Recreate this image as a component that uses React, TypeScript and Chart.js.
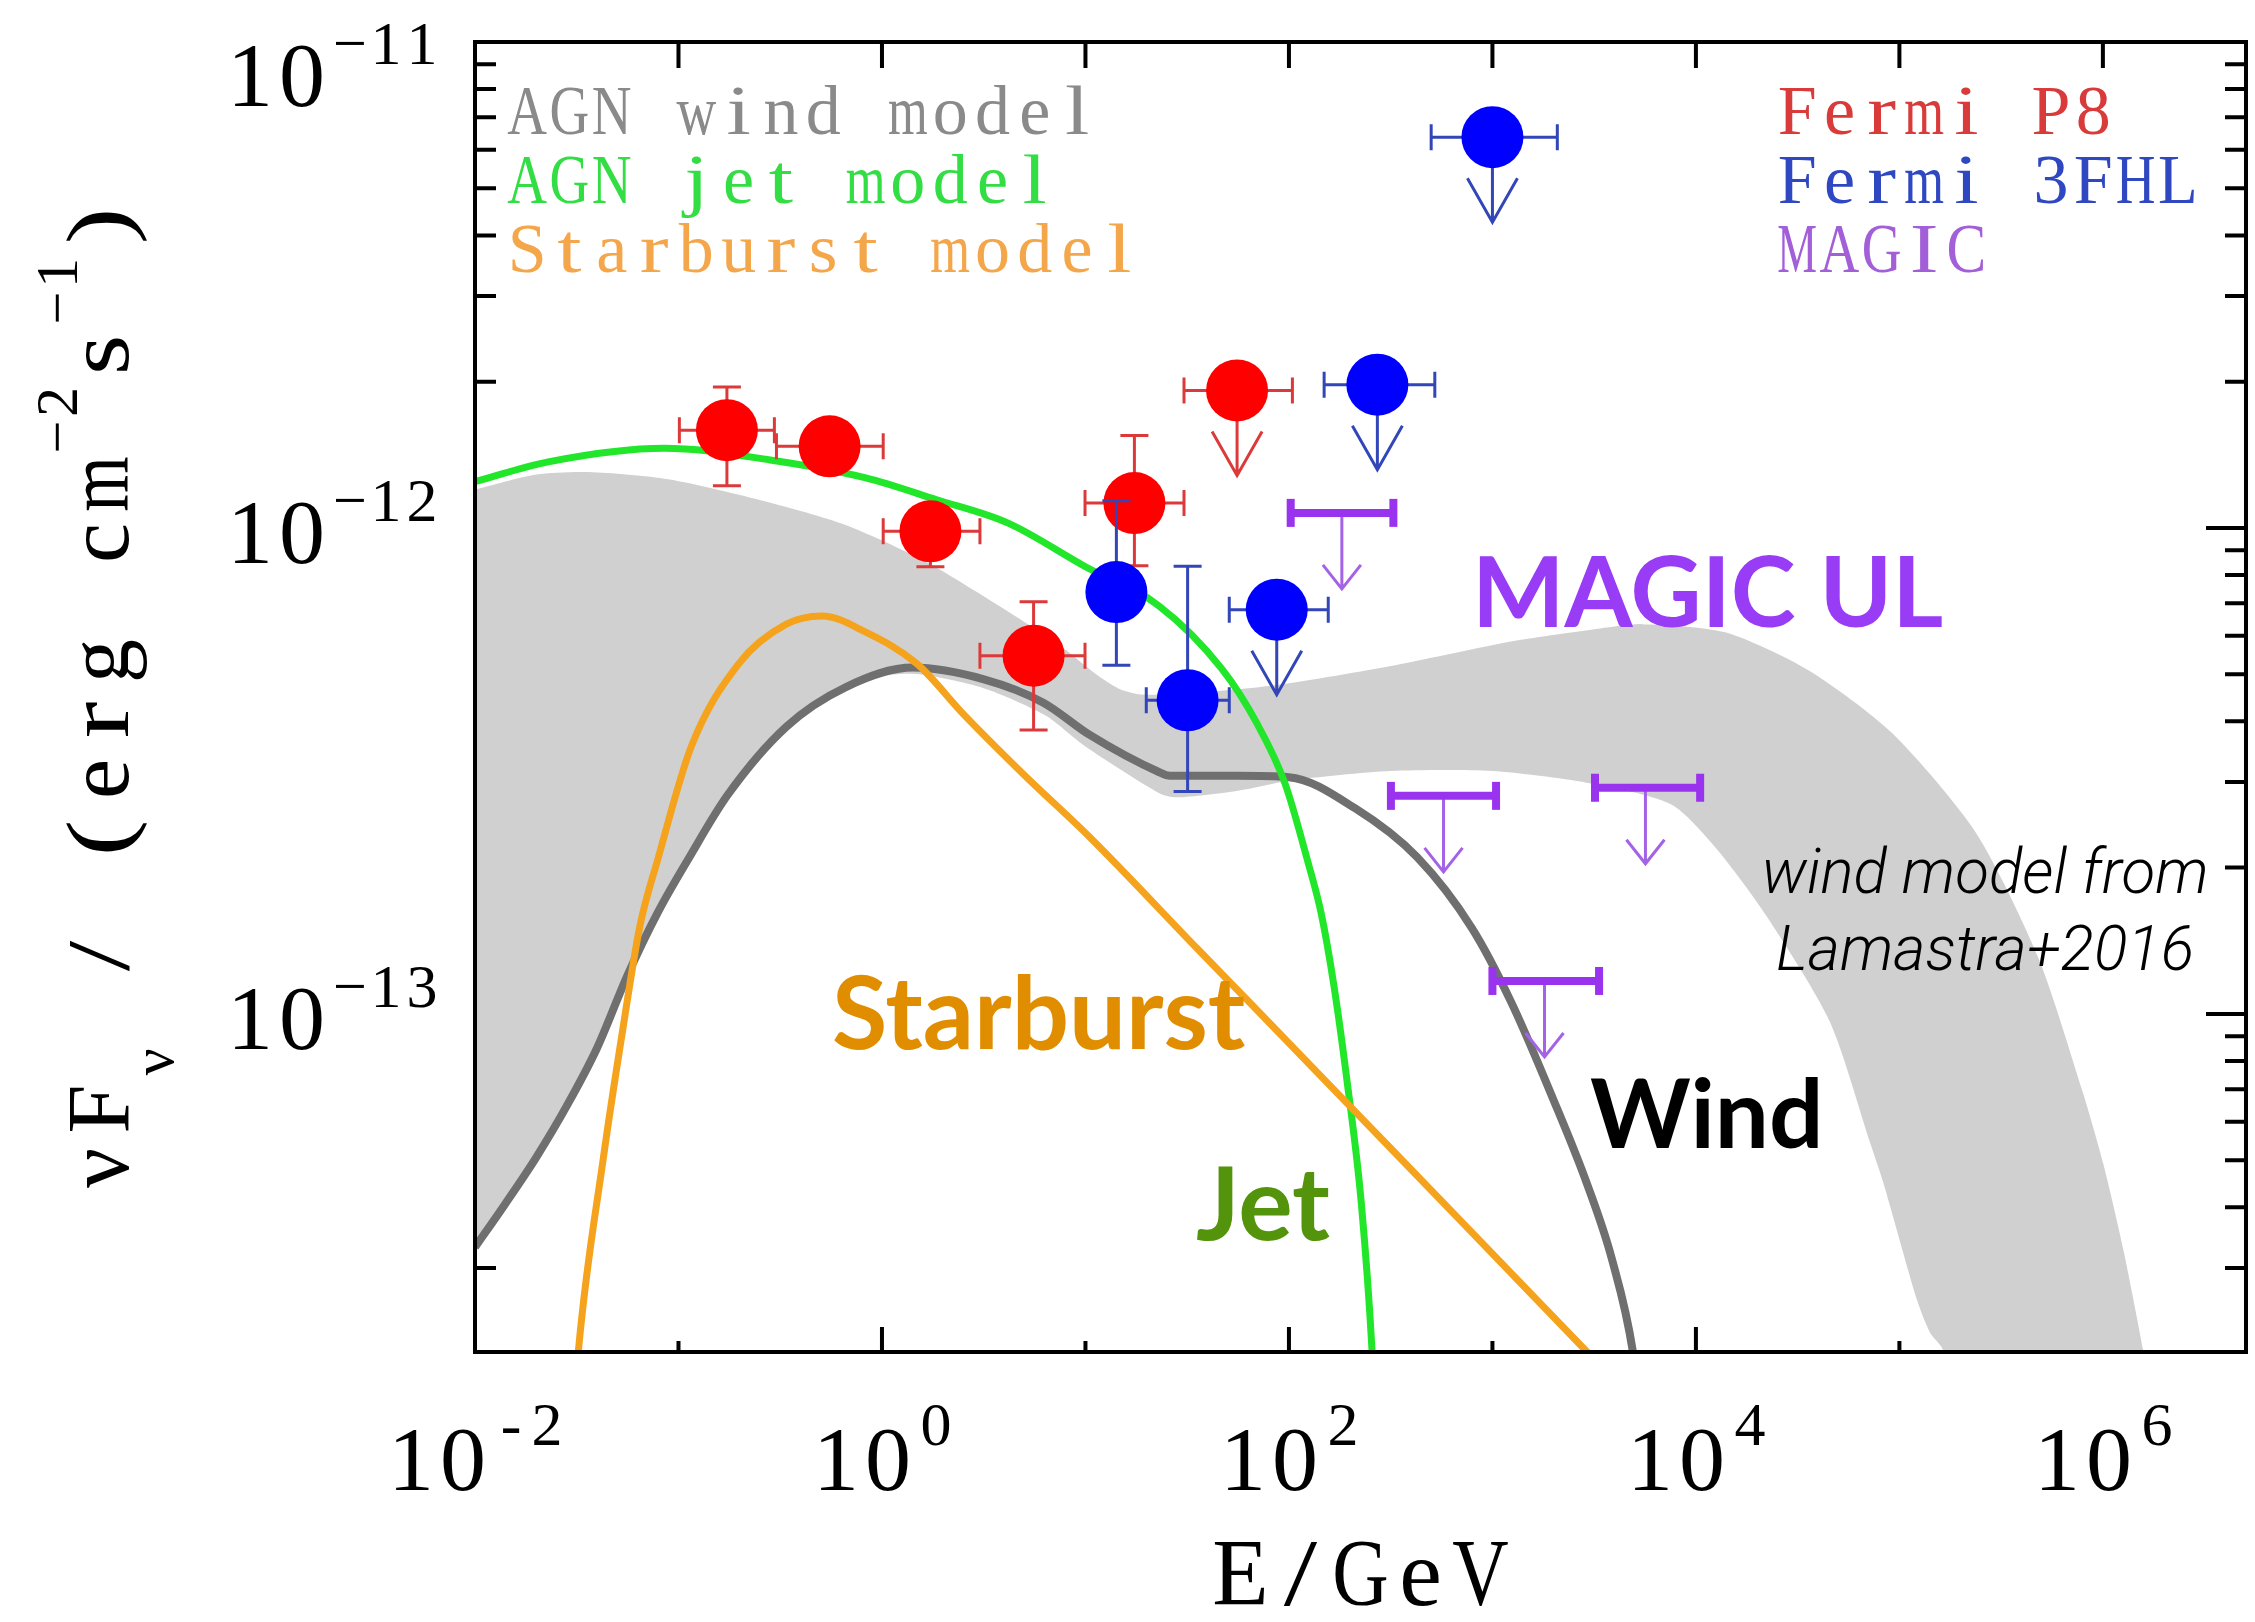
import React, { useEffect, useRef } from "react";
import { Chart, registerables } from "chart.js";

Chart.register(...registerables);

// ---------------- data (E in GeV, nuF_nu in erg cm^-2 s^-1) ----------------
const jetE = [0.01, 0.0229, 0.0851, 0.282, 0.832, 1.86, 4.17, 10.0, 22.9, 46.8, 69.2, 95.5, 124.5, 144.5, 166, 192, 227, 256, 269];
const jetF = [1.245e-12, 1.368e-12, 1.459e-12, 1.38e-12, 1.268e-12, 1.143e-12, 1.023e-12, 8.32e-13, 6.92e-13, 5.13e-13, 3.98e-13, 2.985e-13, 2.04e-13, 1.6e-13, 1.15e-13, 7.4e-14, 4.06e-14, 2.03e-14, 1.26e-14];

const starburstE = [0.0309, 0.0322, 0.0427, 0.0536, 0.0647, 0.0794, 0.1156, 0.198, 0.339, 0.507, 0.828, 1.48, 2.54, 4.97, 10.5, 35.6, 64.3, 211, 695, 2904, 3981];
const starburstF = [1.585e-14, 2.02e-14, 5.04e-14, 9.46e-14, 1.52e-13, 2.09e-13, 3.55e-13, 5.26e-13, 6.34e-13, 6.59e-13, 6.11e-13, 5.26e-13, 4.12e-13, 3.11e-13, 2.31e-13, 1.36e-13, 1.054e-13, 6.3e-14, 3.76e-14, 2.02e-14, 1.76e-14];

const windE = [0.01, 0.0141, 0.02, 0.0282, 0.0398, 0.0562, 0.0794, 0.1122, 0.174, 0.339, 0.661, 1.42, 3.17, 6.21, 10.5, 22.8, 26.0, 55.7, 100, 211, 427, 794, 1233, 1982, 2904, 3864, 4898, 5248];
const windF = [3.31e-14, 4.07e-14, 5.07e-14, 6.46e-14, 8.51e-14, 1.202e-13, 1.622e-13, 2.089e-13, 2.818e-13, 3.9e-13, 4.7e-13, 5.16e-13, 4.88e-13, 4.37e-13, 3.75e-13, 3.15e-13, 3.09e-13, 3.09e-13, 3.07e-13, 2.65e-13, 2.1e-13, 1.5e-13, 1.06e-13, 6.7e-14, 4.49e-14, 3.13e-14, 2.02e-14, 1.585e-14];

// wind model uncertainty band (Lamastra+2016): upper edge left->right, lower edge right->left
const bandUpperE = [0.01, 0.02, 0.0363, 0.0891, 0.271, 0.662, 1.62, 3.98, 7.43, 11.2, 14.6, 19.0, 35.6, 87.1, 333, 1276, 3388, 5420, 13930, 35890, 92260, 237700, 483100, 794300, 1.0e6, 1.259e6, 1.578e6, 1.738e6];
const bandUpperF = [1.199e-12, 1.288e-12, 1.303e-12, 1.259e-12, 1.132e-12, 1.014e-12, 8.55e-13, 6.81e-13, 5.74e-13, 5.01e-13, 4.67e-13, 4.54e-13, 4.58e-13, 4.75e-13, 5.22e-13, 5.85e-13, 6.21e-13, 6.34e-13, 6.1e-13, 5.09e-13, 3.78e-13, 2.36e-13, 1.3e-13, 6.92e-14, 4.95e-14, 3.28e-14, 2.03e-14, 1.585e-14];
const bandLowerE = [177800, 164100, 141300, 121600, 83180, 72440, 45390, 22340, 12590, 7534, 2904, 1000, 316, 100, 56.2, 28.2, 22.9, 10.0, 6.31, 3.16, 1.41, 0.661, 0.339, 0.174, 0.1122, 0.0794, 0.0562, 0.0398, 0.0282, 0.02, 0.0141, 0.01];
const bandLowerF = [1.585e-14, 2.03e-14, 2.21e-14, 2.59e-14, 4.51e-14, 5.37e-14, 9.66e-14, 1.585e-13, 2.19e-13, 2.7e-13, 2.99e-13, 3.16e-13, 3.16e-13, 3.02e-13, 2.88e-13, 2.79e-13, 2.85e-13, 3.55e-13, 4.12e-13, 4.68e-13, 5.01e-13, 4.79e-13, 3.94e-13, 2.85e-13, 2.089e-13, 1.622e-13, 1.202e-13, 8.51e-14, 6.46e-14, 5.07e-14, 4.07e-14, 3.31e-14];

// Fermi P8
const fermiP8E = [0.173, 0.553, 1.73, 5.56, 17.4, 55.6];
const fermiP8F = [1.589e-12, 1.472e-12, 9.84e-13, 5.46e-13, 1.125e-12, 1.919e-12];
const fermiP8ELow = [0.101, 0.303, 1.014, 3.03, 9.95, 30.5];
const fermiP8EHigh = [0.296, 1.014, 3.03, 9.95, 30.5, 104];
const fermiP8FLow = [1.222e-12, null, 8.32e-13, 3.84e-13, 8.36e-13, null];
const fermiP8FHigh = [1.95e-12, null, 1.08e-12, 7.05e-13, 1.549e-12, null];
const fermiP8UL = [false, false, false, false, false, true];

// Fermi 3FHL
const fermi3FHLE = [14.19, 31.77, 87.1, 272, 1000];
const fermi3FHLF = [7.38e-13, 4.42e-13, 6.79e-13, 1.972e-12, 6.37e-12];
const fermi3FHLELow = [null, 19.9, 50.9, 148.9, 500];
const fermi3FHLEHigh = [null, 50.9, 156, 521, 2084];
const fermi3FHLFLow = [5.22e-13, 2.87e-13, null, null, null];
const fermi3FHLFHigh = [1.138e-12, 8.34e-13, null, null, null];
const fermi3FHLUL = [false, false, true, true, true];

// MAGIC upper limits
const magicE = [182, 575, 1803, 5649];
const magicELow = [102, 317, 1000, 3192];
const magicEHigh = [326, 1042, 3342, 10490];
const magicF = [1.074e-12, 2.81e-13, 1.169e-13, 2.92e-13];

// axes
const X_MIN = 1e-2;
const X_MAX = 5.05e6;
const Y_MIN = 2.015e-14;
const Y_MAX = 1e-11;
const xLabelExponents = [-2, 0, 2, 4, 6];
const xTickExponents = [-2, -1, 0, 1, 2, 3, 4, 5, 6];
const yLabelExponents = [-11, -12, -13];
const yTickExponents = [-14, -13, -12, -11];
const xTitle = "E/GeV";
const legendModels = ["AGN wind model", "AGN jet model", "Starburst model"];
const legendData = ["Fermi P8", "Fermi 3FHL", "MAGIC"];

// ---------------- styles ----------------
const SERIF = '"Liberation Serif", "DejaVu Serif", "Times New Roman", serif';
const SANS = 'Lato, "Open Sans", "Noto Sans", sans-serif';
const C = {
  band: "#d0d0d0",
  wind: "#6f6f6f",
  jet: "#22e62a",
  starburst: "#f5a31c",
  red: "#ff0000",
  redBar: "#dc3a3a",
  blue: "#0000ff",
  blueBar: "#3246b8",
  magicBar: "#9a33ee",
  magicStem: "#a463e6",
};
const legendModelColors = ["#8a8a8a", "#33dd44", "#f4a64a"];
const legendDataColors = ["#d93a3a", "#2f47c0", "#a25fd8"];

const pts = (xs: number[], ys: number[]) => xs.map((x, i) => ({ x, y: ys[i] }));

function monoText(ctx: CanvasRenderingContext2D, text: string, x: number, y: number, cell: number, size: number, color: string, stretch = false) {
  ctx.save();
  ctx.font = `${size}px ${SERIF}`;
  ctx.fillStyle = color;
  ctx.textAlign = "center";
  ctx.textBaseline = "alphabetic";
  const maxW = cell * 0.94;
  const minW = cell * 0.68;
  for (let i = 0; i < text.length; i++) {
    const ch = text[i];
    if (ch === " ") continue;
    const cx = x + cell * (i + 0.5);
    const w = ctx.measureText(ch).width;
    let sx = 1;
    if (w > maxW) sx = maxW / w;
    else if (stretch && w < minW) sx = Math.min(minW / w, 1.25);
    if (sx !== 1) {
      ctx.save();
      ctx.translate(cx, y);
      ctx.scale(sx, 1);
      ctx.fillText(ch, 0, 0);
      ctx.restore();
    } else {
      ctx.fillText(ch, cx, y);
    }
  }
  ctx.restore();
  return text.length * cell;
}

function drawFermi(chart: any, ds: any) {
  const ctx: CanvasRenderingContext2D = chart.ctx;
  const xs = chart.scales.x;
  const ys = chart.scales.y;
  const e = ds.errorBars;
  ctx.save();
  ctx.strokeStyle = e.color;
  ctx.lineWidth = 3;
  ds.data.forEach((p: any, i: number) => {
    const cx = xs.getPixelForValue(p.x);
    const cy = ys.getPixelForValue(p.y);
    ctx.beginPath();
    if (e.xLow[i] != null) {
      const x0 = xs.getPixelForValue(e.xLow[i]);
      const x1 = xs.getPixelForValue(e.xHigh[i]);
      ctx.moveTo(x0, cy); ctx.lineTo(x1, cy);
      ctx.moveTo(x0, cy - 13); ctx.lineTo(x0, cy + 13);
      ctx.moveTo(x1, cy - 13); ctx.lineTo(x1, cy + 13);
    }
    if (e.yLow[i] != null) {
      const y0 = ys.getPixelForValue(e.yLow[i]);
      const y1 = ys.getPixelForValue(e.yHigh[i]);
      ctx.moveTo(cx, y0); ctx.lineTo(cx, y1);
      ctx.moveTo(cx - 14, y0); ctx.lineTo(cx + 14, y0);
      ctx.moveTo(cx - 14, y1); ctx.lineTo(cx + 14, y1);
    }
    if (e.ul[i]) {
      const tip = cy + 85;
      ctx.moveTo(cx, cy); ctx.lineTo(cx, tip);
      ctx.moveTo(cx - 25, tip - 44); ctx.lineTo(cx, tip); ctx.lineTo(cx + 25, tip - 44);
    }
    ctx.stroke();
  });
  ctx.restore();
}

function drawMagic(chart: any, ds: any) {
  const ctx: CanvasRenderingContext2D = chart.ctx;
  const xs = chart.scales.x;
  const ys = chart.scales.y;
  const e = ds.magicUL;
  ctx.save();
  ds.data.forEach((p: any, i: number) => {
    const cx = xs.getPixelForValue(p.x);
    const cy = ys.getPixelForValue(p.y);
    const x0 = xs.getPixelForValue(e.xLow[i]);
    const x1 = xs.getPixelForValue(e.xHigh[i]);
    const tip = cy + 76;
    ctx.strokeStyle = C.magicStem;
    ctx.lineWidth = 3;
    ctx.beginPath();
    ctx.moveTo(cx, cy); ctx.lineTo(cx, tip);
    ctx.moveTo(cx - 19, tip - 24); ctx.lineTo(cx, tip); ctx.lineTo(cx + 19, tip - 24);
    ctx.stroke();
    ctx.strokeStyle = C.magicBar;
    ctx.lineWidth = 8;
    ctx.beginPath();
    ctx.moveTo(x0, cy); ctx.lineTo(x1, cy);
    ctx.stroke();
    ctx.fillStyle = C.magicBar;
    ctx.fillRect(x0 - 4, cy - 14, 8, 28);
    ctx.fillRect(x1 - 4, cy - 14, 8, 28);
  });
  ctx.restore();
}

const decorPlugin = {
  id: "decor",
  beforeDatasetsDraw(chart: any) {
    const ctx: CanvasRenderingContext2D = chart.ctx;
    const a = chart.chartArea;
    const xs = chart.scales.x;
    const ys = chart.scales.y;
    ctx.save();
    ctx.strokeStyle = "#000";
    ctx.lineWidth = 4;
    ctx.beginPath();
    xTickExponents.forEach((ex) => {
      const px = xs.getPixelForValue(Math.pow(10, ex));
      if (px <= a.left + 2 || px >= a.right - 2) return;
      const len = ex % 2 === 0 ? 25 : 11;
      ctx.moveTo(px, a.bottom); ctx.lineTo(px, a.bottom - len);
      ctx.moveTo(px, a.top); ctx.lineTo(px, a.top + 26);
    });
    yTickExponents.forEach((ex) => {
      for (let m = 1; m <= 9; m++) {
        const v = m * Math.pow(10, ex);
        if (v <= Y_MIN || v >= Y_MAX) continue;
        const py = ys.getPixelForValue(v);
        const len = m === 1 ? 40 : 21;
        ctx.moveTo(a.left, py); ctx.lineTo(a.left + len, py);
        ctx.moveTo(a.right, py); ctx.lineTo(a.right - len, py);
      }
    });
    ctx.stroke();
    ctx.restore();
  },
  beforeDatasetDraw(chart: any, args: any) {
    const ds = chart.data.datasets[args.index];
    if (ds.errorBars) drawFermi(chart, ds);
    if (ds.magicUL) drawMagic(chart, ds);
  },
  afterDatasetsDraw(chart: any) {
    const ctx: CanvasRenderingContext2D = chart.ctx;
    const a = chart.chartArea;
    ctx.save();
    ctx.strokeStyle = "#000";
    ctx.lineWidth = 4;
    ctx.strokeRect(a.left, a.top, a.right - a.left, a.bottom - a.top);
    ctx.restore();
  },
  afterDraw(chart: any) {
    const ctx: CanvasRenderingContext2D = chart.ctx;
    const a = chart.chartArea;
    const xs = chart.scales.x;
    const ys = chart.scales.y;

    // x tick labels
    xLabelExponents.forEach((ex) => {
      const px = xs.getPixelForValue(Math.pow(10, ex));
      const sup = ex < 0 ? "-" + Math.abs(ex) : String(ex);
      const total = 2 * 52 + 4 + sup.length * 36;
      const x0 = px - total / 2;
      monoText(ctx, "10", x0, a.bottom + 138, 52, 92, "#000");
      monoText(ctx, sup, x0 + 108, a.bottom + 93, 36, 62, "#000");
    });

    // y tick labels
    yLabelExponents.forEach((ex) => {
      const py = ys.getPixelForValue(Math.pow(10, ex));
      const base = Math.max(py + 35, a.top + 64);
      const sup = "\u2212" + Math.abs(ex);
      const total = 2 * 52 + 4 + sup.length * 36;
      const x0 = a.left - 35 - total;
      monoText(ctx, "10", x0, base, 52, 92, "#000");
      monoText(ctx, sup, x0 + 108, base - 42, 36, 62, "#000");
    });

    // x title
    const cxTitle = (a.left + a.right) / 2;
    monoText(ctx, xTitle, cxTitle - (xTitle.length * 60) / 2, a.bottom + 253, 60, 96, "#000", true);

    // y title (rotated)
    const segs = [
      { t: "\u03bdF", big: true, dy: 0 },
      { t: "\u03bd", big: false, dy: 45 },
      { t: " / (erg cm", big: true, dy: 0 },
      { t: "\u22122", big: false, dy: -51 },
      { t: "s", big: true, dy: 0 },
      { t: "\u22121", big: false, dy: -51 },
      { t: ")", big: true, dy: 0 },
    ];
    const BIG = 59, SMALL = 35;
    const totalY = segs.reduce((s, g) => s + g.t.length * (g.big ? BIG : SMALL), 0);
    ctx.save();
    ctx.translate(128, (a.top + a.bottom) / 2);
    ctx.rotate(-Math.PI / 2);
    let tx = -totalY / 2;
    segs.forEach((g) => {
      tx += monoText(ctx, g.t, tx, g.dy, g.big ? BIG : SMALL, g.big ? 88 : 60, "#000", true);
    });
    ctx.restore();

    // legends
    const rows = [134, 203, 272];
    legendModels.forEach((t, i) => monoText(ctx, t, 506, rows[i], 42.3, 70, legendModelColors[i], true));
    legendData.forEach((t, i) => monoText(ctx, t, 1776, rows[i], 42.3, 70, legendDataColors[i], true));

    // annotations
    ctx.save();
    ctx.textAlign = "left";
    ctx.textBaseline = "alphabetic";
    ctx.font = `bold 98px ${SANS}`;
    ctx.fillStyle = "#983cf5";
    ctx.fillText("MAGIC UL", 1472, 627);
    ctx.font = `bold 101px ${SANS}`;
    ctx.fillStyle = "#e08e00";
    ctx.fillText("Starburst", 832, 1049);
    ctx.font = `bold 102px ${SANS}`;
    ctx.fillStyle = "#54940c";
    ctx.fillText("Jet", 1196, 1240);
    ctx.font = `bold 96px ${SANS}`;
    ctx.fillStyle = "#000";
    ctx.fillText("Wind", 1590, 1148);
    ctx.font = `italic 300 62px Roboto, "Liberation Sans", sans-serif`;
    ctx.textAlign = "center";
    ctx.fillText("wind model from", 1985, 893);
    ctx.fillText("Lamastra+2016", 1985, 970);
    ctx.restore();
  },
};

export default function App() {
  const ref = useRef<HTMLCanvasElement>(null);
  useEffect(() => {
    const bandPoly = [...pts(bandUpperE, bandUpperF), ...pts(bandLowerE, bandLowerF)];
    const chart = new Chart(ref.current as HTMLCanvasElement, {
      type: "scatter",
      data: {
        datasets: [
          {
            label: "wind band",
            data: bandPoly,
            showLine: true,
            fill: "shape",
            backgroundColor: C.band,
            borderColor: "rgba(0,0,0,0)",
            borderWidth: 1,
            pointRadius: 0,
            tension: 0.25,
            clip: 0,
            order: 10,
          } as any,
          {
            label: "AGN wind model",
            data: pts(windE, windF),
            showLine: true,
            borderColor: C.wind,
            borderWidth: 8,
            pointRadius: 0,
            cubicInterpolationMode: "monotone",
            clip: 0,
            order: 9,
          } as any,
          {
            label: "AGN jet model",
            data: pts(jetE, jetF),
            showLine: true,
            borderColor: C.jet,
            borderWidth: 7,
            pointRadius: 0,
            cubicInterpolationMode: "monotone",
            clip: 0,
            order: 8,
          } as any,
          {
            label: "Starburst model",
            data: pts(starburstE, starburstF),
            showLine: true,
            borderColor: C.starburst,
            borderWidth: 7,
            pointRadius: 0,
            cubicInterpolationMode: "monotone",
            clip: 0,
            order: 7,
          } as any,
          {
            label: "MAGIC",
            data: pts(magicE, magicF),
            pointRadius: 0,
            magicUL: { xLow: magicELow, xHigh: magicEHigh },
            order: 6,
          } as any,
          {
            label: "Fermi P8",
            data: pts(fermiP8E, fermiP8F),
            pointRadius: 31,
            pointBackgroundColor: C.red,
            pointBorderWidth: 0,
            errorBars: { xLow: fermiP8ELow, xHigh: fermiP8EHigh, yLow: fermiP8FLow, yHigh: fermiP8FHigh, ul: fermiP8UL, color: C.redBar },
            order: 5,
          } as any,
          {
            label: "Fermi 3FHL",
            data: pts(fermi3FHLE, fermi3FHLF),
            pointRadius: 31,
            pointBackgroundColor: C.blue,
            pointBorderWidth: 0,
            errorBars: { xLow: fermi3FHLELow, xHigh: fermi3FHLEHigh, yLow: fermi3FHLFLow, yHigh: fermi3FHLFHigh, ul: fermi3FHLUL, color: C.blueBar },
            order: 4,
          } as any,
        ],
      },
      options: {
        responsive: false,
        animation: false,
        devicePixelRatio: 1,
        events: [],
        layout: { autoPadding: false, padding: { left: 0, top: 42, right: 9, bottom: 0 } },
        plugins: {
          legend: { display: false },
          tooltip: { enabled: false },
          title: { display: false },
        },
        scales: {
          x: {
            type: "logarithmic",
            min: X_MIN,
            max: X_MAX,
            grid: { display: false, drawTicks: false },
            border: { display: false },
            ticks: { display: false },
            afterFit: (s: any) => { s.height = 270; },
          },
          y: {
            type: "logarithmic",
            min: Y_MIN,
            max: Y_MAX,
            grid: { display: false, drawTicks: false },
            border: { display: false },
            ticks: { display: false },
            afterFit: (s: any) => { s.width = 475; },
          },
        },
      } as any,
      plugins: [decorPlugin as any],
    });
    if ((document as any).fonts && (document as any).fonts.ready) {
      (document as any).fonts.ready.then(() => { try { chart.draw(); } catch (e) {} });
    }
    return () => chart.destroy();
  }, []);
  return (
    <div style={{ position: "fixed", left: 0, top: 0, width: 2255, height: 1622, background: "#fff" }}>
      <canvas ref={ref} width={2255} height={1622} style={{ display: "block", width: 2255, height: 1622 }} />
    </div>
  );
}
